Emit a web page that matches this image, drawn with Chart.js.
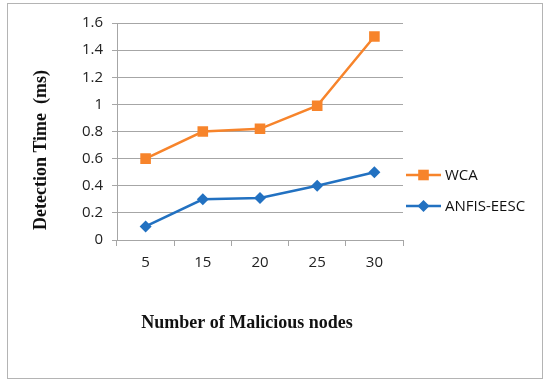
<!DOCTYPE html>
<html>
<head>
<meta charset="utf-8">
<script src="https://cdn.jsdelivr.net/npm/chart.js@4.4.1/dist/chart.umd.min.js"></script>
<style>
  html, body { margin: 0; padding: 0; background: #fff; }
  #wrap { width: 550px; height: 384px; }
</style>
</head>
<body>
<div id="wrap"><canvas id="chart" width="550" height="384"></canvas></div>
<script>
// Data
const nodes = ['5', '15', '20', '25', '30'];
const wca = [0.6, 0.8, 0.82, 0.99, 1.5];
const anfis = [0.1, 0.3, 0.31, 0.4, 0.5];
const seriesNames = ['WCA', 'ANFIS-EESC'];
const yTitle = 'Detection Time  (ms)';
const xTitle = 'Number of Malicious nodes';

const orange = '#f7842b';
const blue = '#2271c1';
const gridGray = '#a6a6a6';

// Outer frame + axis titles
const framePlugin = {
    id: 'frame',
    beforeDraw(chart) {
        const ctx = chart.ctx;
        ctx.save();
        ctx.fillStyle = '#fff';
        ctx.fillRect(0, 0, chart.width, chart.height);
        ctx.strokeStyle = '#b4b4b4';
        ctx.lineWidth = 1;
        ctx.strokeRect(7.5, 3.5, 535, 375);
        ctx.restore();
    },
    afterDraw(chart) {
        const ctx = chart.ctx;
        ctx.save();
        ctx.fillStyle = '#111';
        ctx.font = 'bold 18px "Liberation Serif", "Times New Roman", serif';
        ctx.textAlign = 'center';
        ctx.textBaseline = 'middle';
        ctx.fillText(xTitle, 247, 323);
        ctx.translate(41, 150);
        ctx.rotate(-Math.PI / 2);
        ctx.fillText(yTitle, 0, 0);
        ctx.restore();
    }
};

// Legend with line + marker on the right
const legendPlugin = {
    id: 'sideLegend',
    afterDraw(chart) {
        const ctx = chart.ctx;
        const rows = [175, 206];
        ctx.save();
        chart.data.datasets.forEach((ds, i) => {
            const y = rows[i];
            ctx.strokeStyle = ds.borderColor;
            ctx.lineWidth = 2.5;
            ctx.beginPath();
            ctx.moveTo(406, y);
            ctx.lineTo(441, y);
            ctx.stroke();
            ctx.fillStyle = ds.pointBackgroundColor;
            Chart.helpers.drawPoint(ctx, {
                pointStyle: ds.pointStyle,
                radius: ds.pointRadius,
                rotation: 0,
                borderWidth: 0
            }, 423.5, y);
            ctx.fillStyle = '#111';
            ctx.font = '15px "Open Sans", "Liberation Sans", sans-serif';
            ctx.textAlign = 'left';
            ctx.textBaseline = 'middle';
            ctx.fillText(ds.label, 445, y + 1);
        });
        ctx.restore();
    }
};

const ctx = document.getElementById('chart').getContext('2d');
new Chart(ctx, {
    type: 'line',
    data: {
        labels: nodes,
        datasets: [
            {
                label: seriesNames[0],
                data: wca,
                borderColor: orange,
                backgroundColor: orange,
                pointBackgroundColor: orange,
                pointBorderColor: orange,
                borderWidth: 2.5,
                pointStyle: 'rect',
                pointRadius: 7.5,
                pointBorderWidth: 0,
                tension: 0
            },
            {
                label: seriesNames[1],
                data: anfis,
                borderColor: blue,
                backgroundColor: blue,
                pointBackgroundColor: blue,
                pointBorderColor: blue,
                borderWidth: 2.5,
                pointStyle: 'rectRot',
                pointRadius: 6,
                pointBorderWidth: 0,
                tension: 0
            }
        ]
    },
    options: {
        responsive: false,
        animation: false,
        layout: {
            padding: { left: 10, right: 147, top: 23, bottom: 104 }
        },
        plugins: {
            legend: { display: false },
            tooltip: { enabled: false }
        },
        scales: {
            x: {
                offset: true,
                grid: {
                    offset: true,
                    drawOnChartArea: false,
                    drawTicks: true,
                    tickLength: 6,
                    color: gridGray
                },
                border: { color: gridGray, width: 1 },
                ticks: {
                    color: '#222',
                    padding: 8,
                    font: { family: '"Open Sans", "Liberation Sans", sans-serif', size: 15 }
                },
                afterFit(scale) { scale.height = 40; }
            },
            y: {
                min: 0,
                max: 1.6,
                grid: {
                    color: gridGray,
                    drawTicks: true,
                    tickLength: 5
                },
                border: { color: gridGray, width: 1 },
                ticks: {
                    stepSize: 0.2,
                    color: '#222',
                    padding: 9,
                    font: { family: '"Open Sans", "Liberation Sans", sans-serif', size: 15 },
                    callback: v => String(Math.round(v * 10) / 10)
                },
                afterFit(scale) { scale.width = 107; }
            }
        }
    },
    plugins: [framePlugin, legendPlugin]
});
</script>
</body>
</html>
